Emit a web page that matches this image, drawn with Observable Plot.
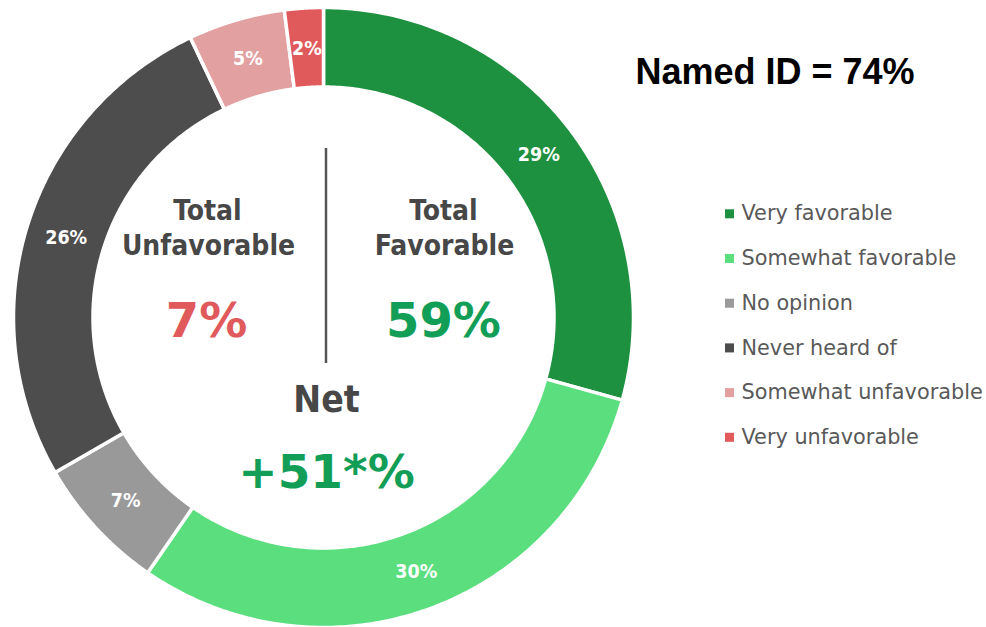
<!DOCTYPE html>
<html>
<head>
<meta charset="utf-8">
<script src="https://cdn.jsdelivr.net/npm/d3@7"></script>
<script src="https://cdn.jsdelivr.net/npm/@observablehq/plot@0.6"></script>
<style>
  html, body { margin: 0; padding: 0; background: #ffffff; }
  #chart svg { display: block; }
</style>
</head>
<body>
<div id="chart"></div>
<script>
// ---- data ----
const categories = ["Very favorable", "Somewhat favorable", "No opinion", "Never heard of", "Somewhat unfavorable", "Very unfavorable"];
const values = [29, 30, 7, 26, 5, 2];
const colors = ["#1e9140", "#5bde7e", "#999999", "#4d4d4d", "#e3a0a1", "#e05a5c"];
const totalUnfavorable = 7;
const totalFavorable = 59;
const netLabel = "+51*%";
const namedId = 74;

// ---- layout ----
const W = 986, H = 627;
const cx = 323.5, cy = 317.5, rOut = 310, rIn = 230.5, rLabel = 270;

const pie = d3.pie().sort(null).value(d => d.value)(categories.map((c, i) => ({category: c, value: values[i]})));

const ring = [];
for (const s of pie) {
  const n = 160;
  for (let k = 0; k <= n; k++) {
    const a = s.startAngle + (s.endAngle - s.startAngle) * k / n;
    ring.push({
      category: s.data.category,
      x1: cx + rIn * Math.sin(a), y1: cy - rIn * Math.cos(a),
      x2: cx + rOut * Math.sin(a), y2: cy - rOut * Math.cos(a)
    });
  }
}
const ringLabels = pie.map(s => {
  const a = (s.startAngle + s.endAngle) / 2;
  return {label: s.data.value + "%", x: cx + rLabel * Math.sin(a), y: cy - rLabel * Math.cos(a)};
});

const legend = categories.map((c, i) => ({category: c, y: 213.3 + i * 44.7}));

const condensed = "'DejaVu Sans Condensed', 'DejaVu Sans', sans-serif";
const dejavu = "'DejaVu Sans', sans-serif";
const gray = "#474747";
const green = "#139e58";
const red = "#e05a5c";

const center = [
  {t: "Total", x: 207, y: 219, size: 28, fill: gray, font: condensed},
  {t: "Unfavorable", x: 208, y: 254, size: 28, fill: gray, font: condensed},
  {t: "Total", x: 443, y: 219, size: 28, fill: gray, font: condensed},
  {t: "Favorable", x: 444, y: 254, size: 28, fill: gray, font: condensed},
  {t: totalUnfavorable + "%", x: 206, y: 336, size: 48, fill: red, font: dejavu},
  {t: totalFavorable + "%", x: 443, y: 336, size: 48, fill: green, font: dejavu},
  {t: "Net", x: 326, y: 411, size: 37, fill: gray, font: condensed},
  {t: netLabel, x: 326, y: 487, size: 47, fill: green, font: dejavu}
];

const marks = [
  Plot.area(ring, {x1: "x1", y1: "y1", x2: "x2", y2: "y2", z: "category", fill: "category", stroke: "white", strokeWidth: 3.5, curve: "linear"}),
  Plot.text(ringLabels, {x: "x", y: "y", text: "label", fill: "white", fontSize: 19.5, fontWeight: "bold", fontFamily: condensed}),
  Plot.ruleX([325.5], {y1: 148, y2: 363, stroke: "#555555", strokeWidth: 2.5}),
  ...center.map(d => Plot.text([d], {x: "x", y: "y", text: "t", fill: d.fill, fontSize: d.size, fontWeight: "bold", fontFamily: d.font, lineAnchor: "bottom"})),
  Plot.text([`Named ID = ${namedId}%`], {x: 635, y: 83.5, text: d => d, textAnchor: "start", lineAnchor: "bottom", fontSize: 36, fontWeight: "bold", fontFamily: "'Liberation Sans', Arial, sans-serif", fill: "#000000"}),
  Plot.dot(legend, {x: 729, y: "y", fill: "category", symbol: "square", r: 5.1, stroke: null}),
  Plot.text(legend, {x: 741, y: "y", text: "category", textAnchor: "start", fontSize: 20.8, fontFamily: dejavu, fill: "#595959"})
];

const chart = Plot.plot({
  width: W, height: H, margin: 0,
  x: {domain: [0, W], range: [0, W], axis: null},
  y: {domain: [0, H], range: [0, H], axis: null},
  color: {domain: categories, range: colors},
  style: {background: "white", overflow: "visible"},
  marks
});
document.getElementById("chart").append(chart);
</script>
</body>
</html>
